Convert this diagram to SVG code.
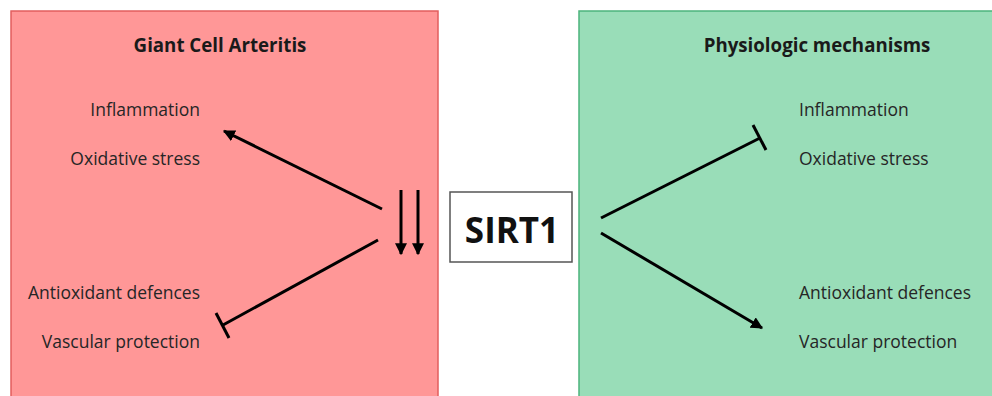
<svg xmlns="http://www.w3.org/2000/svg" width="992" height="396" viewBox="0 0 992 396">
  <defs>
    <style>
      .lbl { font-family: "Open Sans", "Liberation Sans", sans-serif; font-size: 17.5px; fill: #262626; }
      .ttl { font-family: "Open Sans", "Liberation Sans", sans-serif; font-size: 18.7px; font-weight: bold; fill: #1a1a1a; }
      .edge { stroke: #000; stroke-width: 3; fill: none; }
    </style>
    <marker id="arrow" viewBox="0 0 10 10" refX="9" refY="5" markerWidth="4" markerHeight="4" orient="auto" markerUnits="strokeWidth">
      <path d="M0,0 L10,5 L0,10 z" fill="#000"/>
    </marker>
  </defs>

  <rect width="992" height="396" fill="#ffffff"/>

  <!-- disease panel -->
  <g id="gca-panel">
    <rect x="11" y="11" width="427" height="400" fill="#ff9797" stroke="#e25e5e" stroke-width="1.5"/>
    <text class="ttl" x="220" y="52" text-anchor="middle">Giant Cell Arteritis</text>
    <text class="lbl" x="200" y="116" text-anchor="end">Inflammation</text>
    <text class="lbl" x="200" y="165" text-anchor="end">Oxidative stress</text>
    <text class="lbl" x="200" y="299" text-anchor="end">Antioxidant defences</text>
    <text class="lbl" x="200" y="348" text-anchor="end">Vascular protection</text>
  </g>

  <!-- physiologic panel -->
  <g id="physio-panel">
    <rect x="579" y="11" width="420" height="400" fill="#99ddb8" stroke="#4cb47c" stroke-width="1.5"/>
    <text class="ttl" x="817" y="52" text-anchor="middle">Physiologic mechanisms</text>
    <text class="lbl" x="799" y="116">Inflammation</text>
    <text class="lbl" x="799" y="165">Oxidative stress</text>
    <text class="lbl" x="799" y="299">Antioxidant defences</text>
    <text class="lbl" x="799" y="348">Vascular protection</text>
  </g>

  <!-- central node -->
  <g id="sirt1">
    <rect x="450" y="192" width="122" height="70" fill="#ffffff" stroke="#555" stroke-width="1.5"/>
    <text x="512" y="243" text-anchor="middle" font-family="Open Sans, Liberation Sans, sans-serif" font-size="35" font-weight="bold" fill="#111">SIRT1</text>
  </g>

  <!-- connectors -->
  <g id="connectors">
    <!-- left side: promotes inflammation, inhibits protection -->
    <line class="edge" x1="382" y1="209" x2="224" y2="131" marker-end="url(#arrow)"/>
    <line class="edge" x1="378" y1="240" x2="223" y2="325"/>
    <line class="edge" x1="216" y1="313" x2="229" y2="338"/>
    <!-- decreased SIRT1 -->
    <line class="edge" x1="401" y1="190" x2="401" y2="254" marker-end="url(#arrow)"/>
    <line class="edge" x1="418" y1="190" x2="418" y2="254" marker-end="url(#arrow)"/>
    <!-- right side: inhibits inflammation, promotes protection -->
    <line class="edge" x1="601" y1="218" x2="760" y2="138"/>
    <line class="edge" x1="753" y1="125" x2="766" y2="150"/>
    <line class="edge" x1="601" y1="233" x2="762" y2="328" marker-end="url(#arrow)"/>
  </g>
</svg>
